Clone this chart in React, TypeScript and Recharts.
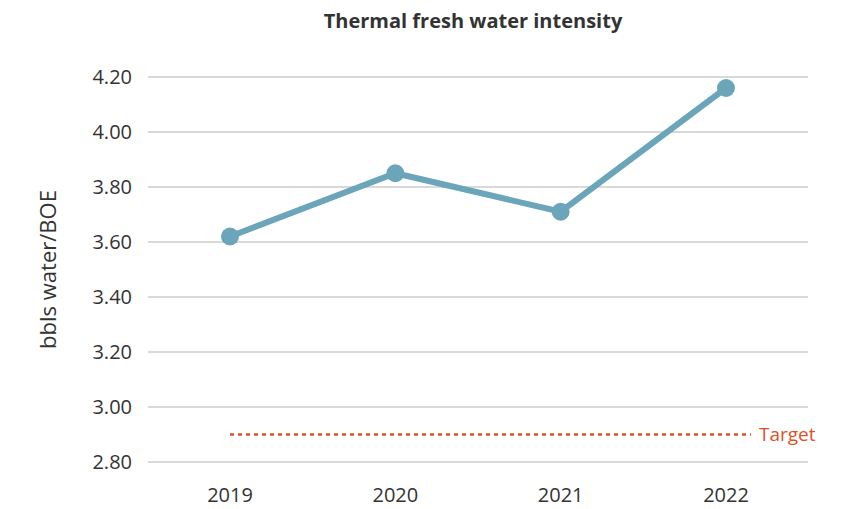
import React from "react";
import {
  CartesianGrid,
  Line,
  LineChart,
  ReferenceLine,
  XAxis,
  YAxis,
} from "recharts";

// Dados
const YEARS = ["2019", "2020", "2021", "2022"];
const INTENSITY = [3.62, 3.85, 3.71, 4.16];
const TARGET = 2.9;
const Y_TICKS = [2.8, 3.0, 3.2, 3.4, 3.6, 3.8, 4.0, 4.2];

const data = YEARS.map((year, i) => ({ year, value: INTENSITY[i] }));

const FONT = "'Open Sans', sans-serif";
const TEXT = "#333333";
const LINE_COLOR = "#6aa5ba";
const TARGET_COLOR = "#e0502a";

const TargetShape = (props: any) => {
  const { x1, y1, x2, y2 } = props;
  const end = x2 + 25;
  return (
    <g>
      <line
        x1={x1}
        y1={y1}
        x2={end}
        y2={y2}
        stroke={TARGET_COLOR}
        strokeWidth={2.5}
        strokeDasharray="4 4"
      />
      <text
        x={end + 8}
        y={y1}
        dy="0.35em"
        fill={TARGET_COLOR}
        fontSize={19}
        fontFamily={FONT}
      >
        Target
      </text>
    </g>
  );
};

export default function App() {
  return (
    <div
      style={{
        position: "absolute",
        left: 0,
        top: 0,
        width: 842,
        height: 509,
        background: "#fff",
        fontFamily: FONT,
      }}
    >
      {/* Título */}
      <div
        style={{
          position: "absolute",
          top: 7,
          left: 0,
          width: 842,
          paddingLeft: 104,
          boxSizing: "border-box",
          textAlign: "center",
          fontWeight: 700,
          fontSize: 20,
          color: TEXT,
        }}
      >
        Thermal fresh water intensity
      </div>
      <LineChart
        width={842}
        height={509}
        data={data}
        margin={{ top: 77, right: 34, bottom: 0, left: 0 }}
      >
        <CartesianGrid
          vertical={false}
          stroke="#d9d9d9"
          strokeWidth={2}
        />
        <XAxis
          dataKey="year"
          height={47}
          padding={{ left: 82, right: 82 }}
          axisLine={false}
          tickLine={false}
          tickMargin={20}
          tick={{ fill: TEXT, fontSize: 20, fontFamily: FONT }}
        />
        <YAxis
          width={148}
          domain={[2.8, 4.2]}
          ticks={Y_TICKS}
          axisLine={false}
          tickLine={false}
          tickMargin={10}
          tickFormatter={(v: number) => v.toFixed(2)}
          tick={{ fill: TEXT, fontSize: 20, fontFamily: FONT }}
          label={{
            value: "bbls water/BOE",
            angle: -90,
            position: "insideLeft",
            offset: 48,
            style: {
              textAnchor: "middle",
              fill: TEXT,
              fontSize: 22,
              fontFamily: FONT,
            },
          }}
        />
        <ReferenceLine
          segment={[
            { x: "2019", y: TARGET },
            { x: "2022", y: TARGET },
          ]}
          shape={TargetShape}
        />
        <Line
          type="linear"
          dataKey="value"
          stroke={LINE_COLOR}
          strokeWidth={6}
          dot={{ r: 9, fill: LINE_COLOR, stroke: LINE_COLOR, strokeWidth: 0 }}
          activeDot={false}
          isAnimationActive={false}
        />
      </LineChart>
    </div>
  );
}
